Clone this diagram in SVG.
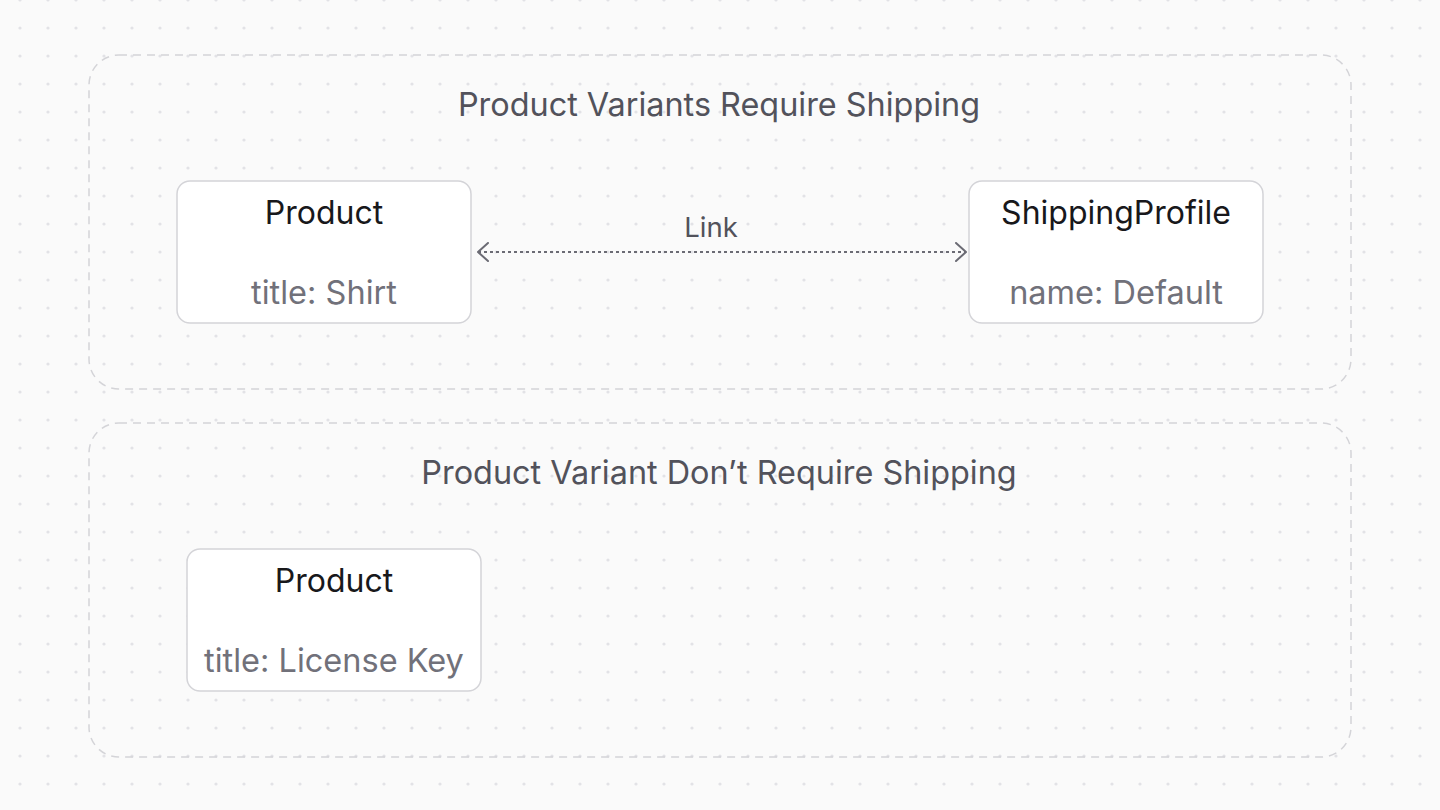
<svg xmlns="http://www.w3.org/2000/svg" width="1440" height="810" viewBox="0 0 1440 810">
  <defs>
    <pattern id="dots" x="6" y="14" width="28" height="28" patternUnits="userSpaceOnUse">
      <circle cx="14" cy="14" r="1.6" fill="#e2e2e6"/>
    </pattern>
    <marker id="chev" viewBox="0 0 12 20" refX="11" refY="10" markerWidth="12" markerHeight="20" markerUnits="userSpaceOnUse" orient="auto-start-reverse">
      <path d="M1,1 L11,10 L1,19" fill="none" stroke="#6b6b74" stroke-width="2" stroke-linecap="round" stroke-linejoin="round"/>
    </marker>
    <style>
      .group { fill: none; stroke: #d4d4d8; stroke-width: 1.5; stroke-dasharray: 8 6; }
      .gtitle { font-family: Inter, "Liberation Sans", sans-serif; font-size: 32.4px; fill: #52525b; text-anchor: middle; }
      .node { fill: #ffffff; stroke: #d4d4d8; stroke-width: 1.5; }
      .ntitle { font-family: Inter, "Liberation Sans", sans-serif; font-size: 32px; fill: #18181b; text-anchor: middle; }
      .nsub { font-family: Inter, "Liberation Sans", sans-serif; font-size: 32.5px; fill: #71717a; text-anchor: middle; }
      .elabel { font-family: Inter, "Liberation Sans", sans-serif; font-size: 27.5px; fill: #52525b; text-anchor: middle; }
      .edge { fill: none; stroke: #6b6b74; stroke-width: 2; stroke-dasharray: 3 3; }
    </style>
  </defs>
  <rect width="1440" height="810" fill="#fafafa"/>
  <rect width="1440" height="810" fill="url(#dots)"/>

  <g id="group-requires">
    <rect class="group" x="89" y="55" width="1262" height="334" rx="30"/>
    <text class="gtitle" x="719" y="116">Product Variants Require Shipping</text>
  </g>
  <g id="group-not-requires">
    <rect class="group" x="89" y="423" width="1262" height="334" rx="30"/>
    <text class="gtitle" x="719" y="484">Product Variant Don’t Require Shipping</text>
  </g>

  <g id="node-product-shirt">
    <rect class="node" x="177" y="181" width="294" height="142" rx="13"/>
    <text class="ntitle" x="324" y="224">Product</text>
    <text class="nsub" x="324" y="304">title: Shirt</text>
  </g>
  <g id="node-shipping-profile">
    <rect class="node" x="969" y="181" width="294" height="142" rx="13"/>
    <text class="ntitle" x="1116" y="224">ShippingProfile</text>
    <text class="nsub" x="1116" y="304">name: Default</text>
  </g>
  <g id="node-product-license">
    <rect class="node" x="187" y="549" width="294" height="142" rx="13"/>
    <text class="ntitle" x="334" y="592">Product</text>
    <text class="nsub" x="334" y="672">title: License Key</text>
  </g>

  <g id="connectors">
    <path class="edge" d="M478,252 L966,252" marker-start="url(#chev)" marker-end="url(#chev)"/>
    <text class="elabel" x="711" y="237">Link</text>
  </g>
</svg>
